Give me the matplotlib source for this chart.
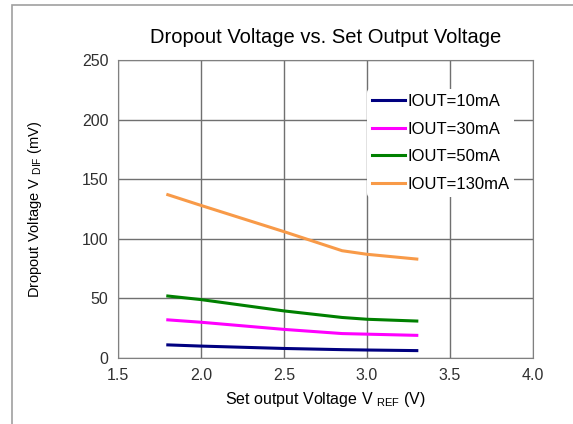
import matplotlib
matplotlib.use("Agg")
import matplotlib.pyplot as plt
from matplotlib.patches import Rectangle

plt.rcParams['font.family'] = ['Liberation Sans', 'DejaVu Sans']
plt.rcParams['mathtext.fontset'] = 'custom'
plt.rcParams['mathtext.rm'] = 'Liberation Sans'

# --- data ---
vref = [1.8, 2.0, 2.5, 2.85, 3.0, 3.3]
iout_10 = [11, 10, 8, 7, 6.7, 6.2]
iout_30 = [32, 30, 24, 20.5, 20, 19]
iout_50 = [52, 49, 39.5, 34, 32.5, 31]
iout_130 = [137, 128, 106, 90, 87, 83]

labels = ["IOUT=10mA", "IOUT=30mA", "IOUT=50mA", "IOUT=130mA"]
colors = ["#000080", "#ff00ff", "#008000", "#f89a48"]

fig = plt.figure(figsize=(5.73, 4.24), dpi=100)
ax = fig.add_axes([118/573, 1 - 358/424, (533-118)/573, (358-60)/424])

# thin frame around the whole picture
fig.patches.append(Rectangle((12/573, -0.05), 1.0, 1 - 5/424 + 0.05,
                             transform=fig.transFigure, fill=False,
                             edgecolor="#a0a0a0", linewidth=1.2))

for ys, lab, c in zip([iout_10, iout_30, iout_50, iout_130], labels, colors):
    ax.plot(vref, ys, color=c, linewidth=2.2, label=lab)

ax.set_xlim(1.5, 4.0)
ax.set_ylim(0, 250)
ax.set_xticks([1.5, 2.0, 2.5, 3.0, 3.5, 4.0])
ax.set_xticklabels(["1.5", "2.0", "2.5", "3.0", "3.5", "4.0"])
ax.set_yticks([0, 50, 100, 150, 200, 250])
ax.tick_params(length=0, labelsize=11.5, pad=7, colors="#303030")
ax.grid(True, color="#707070", linewidth=1.0)
ax.set_axisbelow(True)
for s in ax.spines.values():
    s.set_color("#808080")

ax.set_title("Dropout Voltage vs. Set Output Voltage", fontsize=14.5, pad=12)
ax.set_xlabel(r"Set output Voltage V $_{\rm REF}$ (V)", fontsize=11.5, labelpad=5)
ax.set_ylabel(r"Dropout Voltage V $_{\rm DIF}$ (mV)", fontsize=10.5, labelpad=27)

leg = ax.legend(loc="upper left", bbox_to_anchor=(0.58, 0.93), frameon=True,
                fontsize=12, handlelength=2.0, handletextpad=0.1,
                labelspacing=0.75, borderpad=0.3)
leg.get_frame().set_edgecolor("none")
leg.get_frame().set_facecolor("white")
leg.get_frame().set_alpha(1)

plt.savefig("out.png", dpi=100)
